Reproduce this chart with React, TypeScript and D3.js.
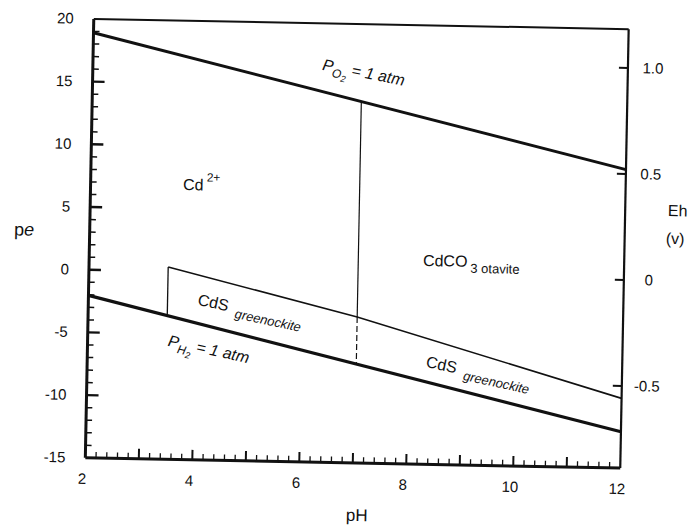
import React from "react";
import * as d3 from "d3";

// pe–pH diagram for cadmium, right axis in Eh (volts)
const WIDTH = 689;
const HEIGHT = 527;

const phLabels = [2, 4, 6, 8, 10, 12];
const peLabels = [-15, -10, -5, 0, 5, 10, 15, 20];
const ehLabels = [-0.5, 0, 0.5, 1.0];
const EH_PER_PE = 0.05916;

// stability boundaries (pH, pe)
const o2LinePH = [2, 12];
const o2LinePE = [18.9, 8.8];
const h2LinePH = [2, 12];
const h2LinePE = [-2.05, -12.1];
const cdsTopPH = [3.48, 7.03, 12];
const cdsTopPE = [0.34, -3.36, -9.44];
const cdsEdgePH = [3.48, 3.48];
const cdsEdgePE = [0.34, -3.54];
const carbEdgePH = [7.03, 7.03];
const carbEdgePE = [13.82, -3.36];
const carbDashPH = [7.03, 7.03];
const carbDashPE = [-3.36, -7.12];

// field labels: anchor (pH, pe)
const cdIonAt = [3.73, 6.5];
const carbAt = [8.24, 0.81];
const o2LabelAt = [6.28, 16.3];
const h2LabelAt = [3.49, -5.95];
const cdsLeftAt = [4.03, -2.62];
const cdsRightAt = [8.32, -7.22];

const FONT = "'Liberation Sans', Arial, Helvetica, sans-serif";

export default function App() {
  const x = d3.scaleLinear().domain([2, 12]).range([89.5, 624.5]);
  const y = d3.scaleLinear().domain([-15, 20]).range([463, 24]);
  const yEh = d3
    .scaleLinear()
    .domain([-15 * EH_PER_PE, 20 * EH_PER_PE])
    .range([463, 24]);

  const line = d3
    .line<[number, number]>()
    .x((d) => x(d[0]))
    .y((d) => y(d[1]));
  const pts = (ph: number[], pe: number[]) =>
    ph.map((p, i) => [p, pe[i]] as [number, number]);

  const phMinor = d3.range(2.2, 12, 0.2);
  const peMinor = d3.range(-14, 20, 1);

  const [x0, x1] = x.range();
  const [yb, yt] = y.range();

  const at = (p: number[], angle: number) =>
    `translate(${x(p[0])},${y(p[1])}) rotate(${angle})`;

  return (
    <svg
      width={WIDTH}
      height={HEIGHT}
      style={{ position: "absolute", left: 0, top: 0, background: "#fff" }}
      fontFamily={FONT}
    >
      <g transform="rotate(1.1, 357, 243.5)" fill="#111">
        {/* frame */}
        <line x1={x0} x2={x1} y1={yt} y2={yt} stroke="#111" strokeWidth={2} />
        <line x1={x1} x2={x1} y1={yt} y2={yb} stroke="#111" strokeWidth={2.2} />
        <line x1={x0} x2={x1} y1={yb} y2={yb} stroke="#111" strokeWidth={3} />
        <line x1={x0} x2={x0} y1={yt} y2={yb} stroke="#111" strokeWidth={3} />

        {/* bottom ticks */}
        {phMinor.map((v) => {
          const major = Math.abs(v - Math.round(v)) < 1e-6;
          return (
            <line
              key={"px" + v.toFixed(1)}
              x1={x(v)}
              x2={x(v)}
              y1={yb}
              y2={yb - (major ? 10 : 6)}
              stroke="#111"
              strokeWidth={major ? 2 : 1.3}
            />
          );
        })}
        {phLabels.map((v) => (
          <text
            key={"pl" + v}
            x={x(v) - 3}
            y={yb + 26}
            fontSize={15}
            textAnchor="middle"
          >
            {v}
          </text>
        ))}

        {/* left ticks */}
        {peMinor.map((v) => {
          const major = v % 5 === 0;
          return (
            <line
              key={"pe" + v}
              x1={x0}
              x2={x0 + (major ? 12 : 6)}
              y1={y(v)}
              y2={y(v)}
              stroke="#111"
              strokeWidth={major ? 2.4 : 1.5}
            />
          );
        })}
        {peLabels.map((v) => (
          <text
            key={"el" + v}
            x={x0 - 20}
            y={y(v) + 5}
            fontSize={15}
            textAnchor="end"
          >
            {v}
          </text>
        ))}

        {/* right Eh ticks */}
        {ehLabels.map((v) => (
          <g key={"eh" + v}>
            <line
              x1={x1}
              x2={x1 - 9}
              y1={yEh(v)}
              y2={yEh(v)}
              stroke="#111"
              strokeWidth={2}
            />
            <text x={x1 + 25} y={yEh(v) + 5} fontSize={15} textAnchor="middle">
              {v === 0 ? "0" : v.toFixed(1)}
            </text>
          </g>
        ))}

        {/* axis titles */}
        <text x={24} y={242} fontSize={18} textAnchor="middle">
          p<tspan fontStyle="italic">e</tspan>
        </text>
        <text x={362} y={521} fontSize={17} textAnchor="middle">
          pH
        </text>
        <text x={677} y={210} fontSize={16} textAnchor="middle">
          Eh
        </text>
        <text x={675} y={238} fontSize={16} textAnchor="middle">
          (v)
        </text>

        {/* boundaries */}
        <path d={line(pts(o2LinePH, o2LinePE)) || ""} fill="none" stroke="#111" strokeWidth={3} />
        <path d={line(pts(h2LinePH, h2LinePE)) || ""} fill="none" stroke="#111" strokeWidth={3.2} />
        <path d={line(pts(cdsTopPH, cdsTopPE)) || ""} fill="none" stroke="#111" strokeWidth={1.6} />
        <path d={line(pts(cdsEdgePH, cdsEdgePE)) || ""} fill="none" stroke="#111" strokeWidth={1.3} />
        <path d={line(pts(carbEdgePH, carbEdgePE)) || ""} fill="none" stroke="#111" strokeWidth={1.2} />
        <path
          d={line(pts(carbDashPH, carbDashPE)) || ""}
          fill="none"
          stroke="#111"
          strokeWidth={1.2}
          strokeDasharray="6,3"
        />

        {/* field labels */}
        <text x={x(cdIonAt[0])} y={y(cdIonAt[1])} fontSize={16}>
          Cd
          <tspan dx={3} dy={-9} fontSize={12}>
            2+
          </tspan>
        </text>
        <text x={x(carbAt[0])} y={y(carbAt[1])} fontSize={16}>
          CdCO
          <tspan dx={3} dy={6} fontSize={13}>
            3 otavite
          </tspan>
        </text>
        <text transform={at(o2LabelAt, 10)} fontSize={16} fontStyle="italic">
          P
          <tspan dy={5} fontSize={12}>
            O
          </tspan>
          <tspan dy={3} fontSize={9}>
            2
          </tspan>
          <tspan dy={-8} fontSize={16}>
            {" = 1 atm"}
          </tspan>
        </text>
        <text transform={at(h2LabelAt, 11)} fontSize={16} fontStyle="italic">
          P
          <tspan dy={5} fontSize={12}>
            H
          </tspan>
          <tspan dy={3} fontSize={9}>
            2
          </tspan>
          <tspan dy={-8} fontSize={16}>
            {" = 1 atm"}
          </tspan>
        </text>
        {[cdsLeftAt, cdsRightAt].map((p, i) => (
          <text key={"cds" + i} transform={at(p, 11)} fontSize={16}>
            CdS
            <tspan dx={8} dy={5} fontSize={13} fontStyle="italic">
              greenockite
            </tspan>
          </text>
        ))}
      </g>
    </svg>
  );
}
